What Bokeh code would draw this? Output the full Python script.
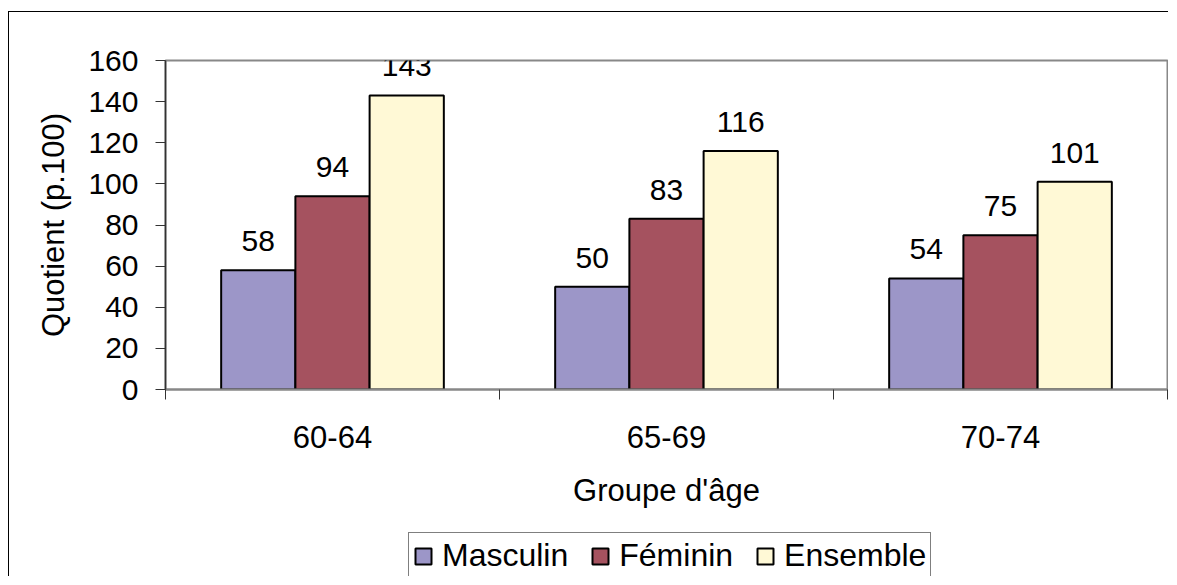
import numpy as np
from bokeh.plotting import figure
from bokeh.layouts import column
from bokeh.models import (Range1d, FixedTicker, Legend, LegendItem, ColumnDataSource)
from bokeh.core.properties import value
from bokeh.embed import file_html
from bokeh.resources import INLINE

# ---- data ----
categories = ["60-64", "65-69", "70-74"]
series_names = ["Masculin", "Féminin", "Ensemble"]
masculin = [58, 50, 54]
feminin = [94, 83, 75]
ensemble = [143, 116, 101]
y_ticks = [0, 20, 40, 60, 80, 100, 120, 140, 160]

series_values = [masculin, feminin, ensemble]
colors = ["#9C96C8", "#A5525F", "#FFF9D6"]

FONT = "Liberation Sans"
FS_NUM = "30px"
FS_TXT = "31px"
FS_LEG = "32px"

p = figure(width=1159, height=507, output_backend="svg", toolbar_location=None,
           x_range=Range1d(0, len(categories)), y_range=Range1d(0, 160),
           min_border_left=156, min_border_right=1, min_border_top=48,
           min_border_bottom=130)
p.background_fill_color = "white"
p.border_fill_color = "white"
p.outline_line_color = "#888888"
p.outline_line_width = 2
p.xgrid.visible = False
p.ygrid.visible = False

bar_w = 1 / 4.5
offsets = [-bar_w, 0.0, bar_w]
centers = np.arange(len(categories)) + 0.5

for name, vals, col, off in zip(series_names, series_values, colors, offsets):
    src = ColumnDataSource(dict(x=centers + off, top=vals, lbl=[str(v) for v in vals]))
    p.vbar(x="x", top="top", bottom=0, width=bar_w, source=src,
           fill_color=col, line_color="black", line_width=2)
    p.text(x="x", y="top", text="lbl", source=src, text_align="center",
           text_baseline="bottom", y_offset=-19, text_font=value(FONT),
           text_font_size=value(FS_NUM), text_color="black")

# axes
xa = p.xaxis[0]
xa.ticker = FixedTicker(ticks=list(centers), minor_ticks=list(range(len(categories) + 1)))
xa.major_label_overrides = {float(c): lab for c, lab in zip(centers, categories)}
xa.major_tick_out = 0
xa.major_tick_in = 0
xa.minor_tick_out = 10
xa.minor_tick_in = 0
xa.minor_tick_line_color = "#333333"
xa.axis_line_color = "#888888"
xa.axis_line_width = 2
xa.major_label_standoff = 26
xa.major_label_text_font_size = FS_TXT
xa.axis_label = "Groupe d'âge"
xa.axis_label_standoff = 22
xa.axis_label_text_font_style = "normal"

ya = p.yaxis[0]
ya.ticker = FixedTicker(ticks=y_ticks, minor_ticks=[])
ya.major_tick_out = 10
ya.major_tick_in = 0
ya.major_tick_line_color = "#333333"
ya.axis_line_color = "#333333"
ya.axis_line_width = 1.5
ya.major_label_standoff = 17
ya.major_label_text_font_size = FS_NUM
ya.axis_label = "Quotient (p.100)"
ya.axis_label_standoff = 14
ya.axis_label_text_font_style = "normal"

for ax in (xa, ya):
    ax.major_label_text_font = FONT
    ax.major_label_text_color = "black"
    ax.axis_label_text_font = FONT
    ax.axis_label_text_font_size = FS_TXT
    ax.axis_label_text_color = "black"

# legend strip (below the chart); tiny proxy renderers hidden behind the legend box
pl = figure(width=1159, height=57, output_backend="svg", toolbar_location=None,
            x_axis_location=None, y_axis_location=None,
            x_range=Range1d(0, 1), y_range=Range1d(0, 1),
            min_border_left=0, min_border_right=0, min_border_top=0, min_border_bottom=0)
pl.outline_line_color = None
pl.xgrid.visible = False
pl.ygrid.visible = False
pl.background_fill_color = "white"
pl.border_fill_color = "white"
leg_items = []
for name, col in zip(series_names, colors):
    r = pl.vbar(x=[0.5], bottom=[0.5], top=[0.51], width=0.0005, fill_color=col,
                line_color="black", line_width=2)
    leg_items.append(LegendItem(label=name, renderers=[r]))

legend = Legend(items=leg_items, orientation="horizontal", location=(243, -3))
legend.label_text_font = FONT
legend.label_text_font_size = FS_LEG
legend.label_text_color = "black"
legend.glyph_width = 20
legend.glyph_height = 20
legend.label_standoff = 9
legend.spacing = 22
legend.padding = 4
legend.margin = 0
legend.border_line_color = "black"
legend.border_line_width = 1.2
legend.background_fill_color = "white"
legend.background_fill_alpha = 1
pl.add_layout(legend, "center")

lay = column(p, pl, spacing=0)
lay.margin = (11, 0, 0, 8)
lay.styles = {"border-left": "1.5px solid #000", "border-top": "1.5px solid #000"}

open("out.html", "w").write(file_html(lay, INLINE))
